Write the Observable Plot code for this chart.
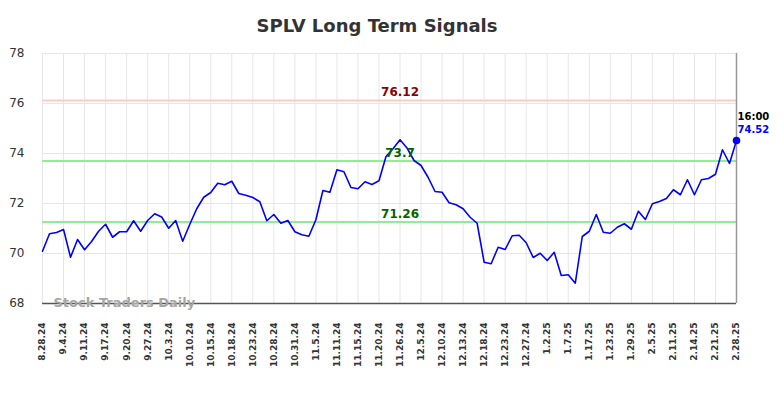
<!DOCTYPE html>
<html><head><meta charset="utf-8">
<script src="https://cdn.jsdelivr.net/npm/d3@7"></script>
<script src="https://cdn.jsdelivr.net/npm/@observablehq/plot@0.6"></script>
<style>
body{margin:0;background:#fff;font-family:"DejaVu Sans",sans-serif;}
#title{width:784px;height:40px;box-sizing:border-box;padding-top:15px;padding-right:30px;text-align:center;font-size:18px;line-height:22px;font-weight:bold;color:#333;}
#chart svg{display:block;}
</style></head><body>
<div id="title">SPLV Long Term Signals</div>
<div id="chart"></div>
<script>
const tickLabels = ["8.28.24","9.4.24","9.11.24","9.17.24","9.20.24","9.27.24","10.3.24","10.10.24","10.15.24","10.18.24","10.23.24","10.28.24","10.31.24","11.5.24","11.11.24","11.15.24","11.20.24","11.26.24","12.5.24","12.10.24","12.13.24","12.18.24","12.23.24","12.27.24","1.2.25","1.7.25","1.17.25","1.23.25","1.29.25","2.5.25","2.11.25","2.14.25","2.21.25","2.28.25"];
const closes = [70.09,70.79,70.84,70.96,69.85,70.56,70.15,70.48,70.89,71.17,
70.65,70.87,70.87,71.31,70.89,71.32,71.59,71.46,71.01,71.32,
70.49,71.16,71.79,72.25,72.44,72.81,72.75,72.89,72.40,72.33,
72.24,72.07,71.31,71.56,71.21,71.32,70.87,70.75,70.69,71.35,
72.52,72.45,73.35,73.27,72.64,72.59,72.87,72.76,72.91,73.88,
74.19,74.55,74.22,73.72,73.52,73.05,72.48,72.45,72.03,71.95,
71.79,71.45,71.21,69.65,69.59,70.25,70.16,70.71,70.73,70.43,
69.84,70.01,69.72,70.05,69.12,69.15,68.81,70.68,70.89,71.56,
70.85,70.81,71.05,71.19,70.97,71.69,71.36,71.99,72.08,72.20,
72.55,72.35,72.95,72.35,72.95,73.00,73.17,74.15,73.60,74.52];
const yTicks = [68,70,72,74,76,78];
const levelValues = [76.12, 73.7, 71.26];
const levelLabels = ["76.12", "73.7", "71.26"];
const levelLineColors = ["#ffcaca", "#90ee90", "#90ee90"];
const levelTextColors = ["#8b0000", "#006400", "#006400"];
const lastTime = "16:00";
const watermark = "Stock Traders Daily";

const step = (closes.length - 1) / (tickLabels.length - 1);
const xTicks = tickLabels.map((d, i) => i * step);
const series = closes.map((v, i) => ({i, v}));
const levels = levelValues.map((v, k) => ({v, label: levelLabels[k], line: levelLineColors[k], text: levelTextColors[k]}));
const last = series[series.length - 1];
const peakIdx = d3.maxIndex(closes);

const chart = Plot.plot({
  width: 784,
  height: 358,
  marginTop: 13,
  marginBottom: 95,
  marginLeft: 42,
  marginRight: 48,
  style: {fontFamily: "DejaVu Sans", background: "#fff"},
  x: {type: "linear", domain: [0, closes.length - 1]},
  y: {domain: [68, 78]},
  marks: [
    Plot.gridX(xTicks, {stroke: "#e6e6e6", strokeOpacity: 1, strokeWidth: 1}),
    Plot.gridY(yTicks, {stroke: "#e6e6e6", strokeOpacity: 1, strokeWidth: 1}),
    Plot.ruleY(levels, {y: "v", stroke: "line", strokeWidth: 2}),
    Plot.ruleY([68], {stroke: "#555", strokeWidth: 1.5}),
    Plot.ruleX([closes.length - 1], {stroke: "#999", strokeWidth: 1.5}),
    Plot.text([watermark], {frameAnchor: "bottom-left", lineAnchor: "middle", text: d => d, textAnchor: "start", dx: 11, dy: -1, fill: "#a6a6a6", fontSize: 13, fontWeight: "bold"}),
    Plot.line(series, {x: "i", y: "v", stroke: "#0000ff", strokeWidth: 1.6}),
    Plot.text(levels, {x: () => peakIdx, y: "v", text: "label", fill: "text", fontSize: 12, fontWeight: "bold", dy: -8}),
    Plot.dot([last], {x: "i", y: "v", r: 3.8, fill: "#0000ff"}),
    Plot.text([last], {x: "i", y: "v", text: () => lastTime, textAnchor: "start", dx: 1, dy: -24, fill: "#000", fontSize: 10, fontWeight: "bold"}),
    Plot.text([last], {x: "i", y: "v", text: d => d.v.toFixed(2), textAnchor: "start", dx: 1, dy: -11, fill: "#0000ff", fontSize: 10, fontWeight: "bold"}),
    Plot.axisY(yTicks, {tickSize: 0, tickPadding: 18, fontSize: 12, fill: "#333", label: null}),
    Plot.axisX(xTicks, {tickSize: 0, tickPadding: 19, tickRotate: -90, tickFormat: (d, i) => tickLabels[i], fontSize: 9, fontWeight: "bold", fill: "#333", label: null})
  ]
});
document.getElementById("chart").appendChild(chart);
</script>
</body></html>
